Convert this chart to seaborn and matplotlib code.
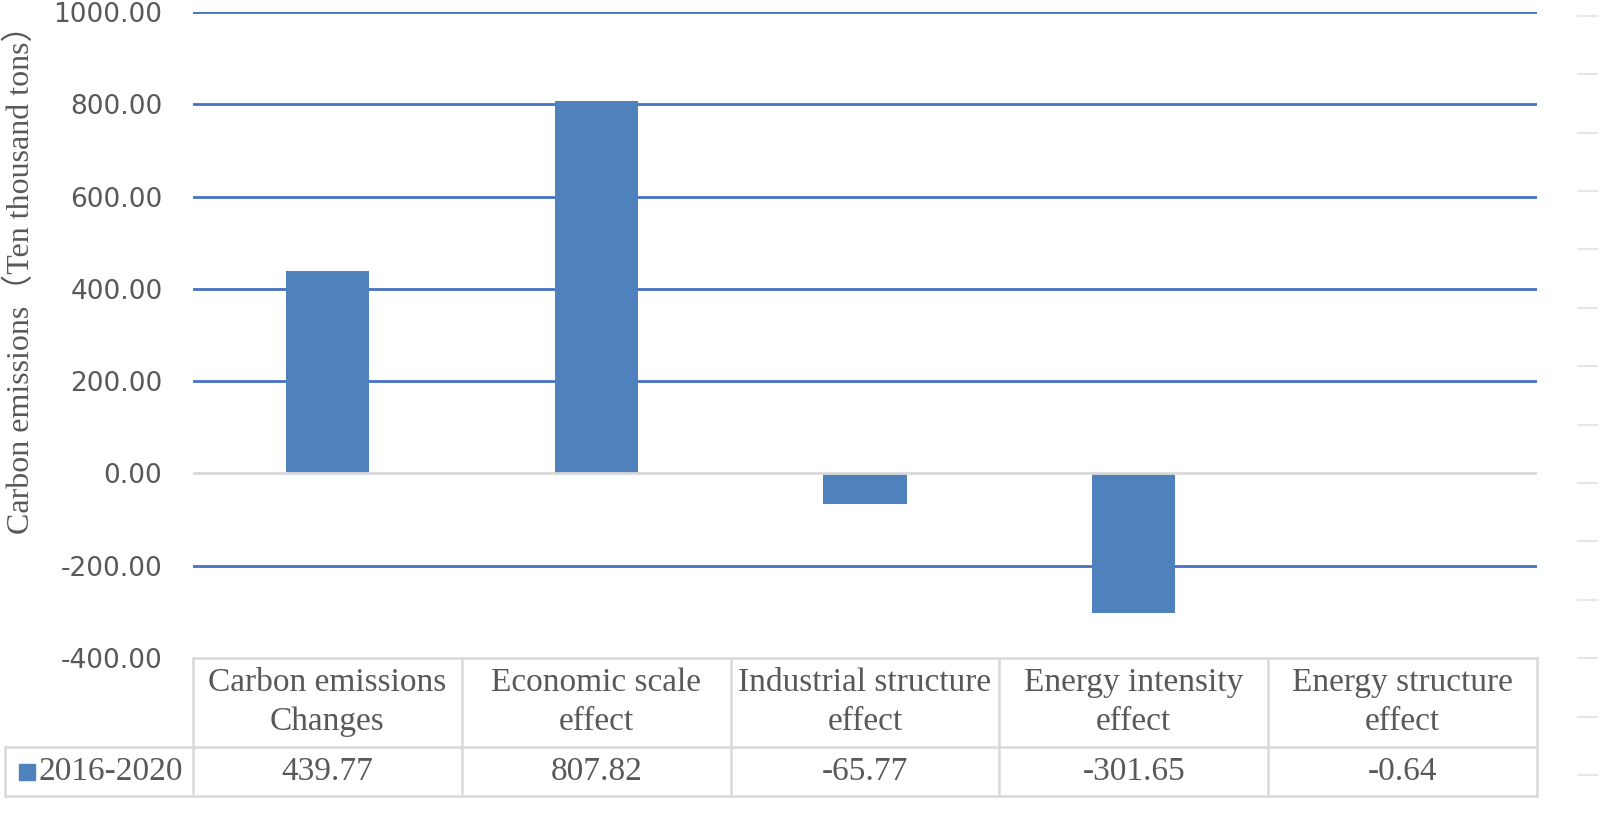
import matplotlib
matplotlib.use("Agg")
import matplotlib.pyplot as plt
import matplotlib.transforms as mtransforms
from matplotlib.lines import Line2D
import seaborn as sns
import pandas as pd

categories = ["Carbon emissions\nChanges", "Economic scale\neffect", "Industrial structure\neffect",
              "Energy intensity\neffect", "Energy structure\neffect"]
values = [439.77, 807.82, -65.77, -301.65, -0.64]
series_name = "2016-2020"
yticks = [-400, -200, 0, 200, 400, 600, 800, 1000]
ylabel = "Carbon emissions\uff08Ten thousand tons\uff09"

BAR = "#4F81BD"
GRID = "#4472C4"
BORDER = "#D9D9D9"
TXT = "#595959"
SERIF = ['Liberation Serif', 'Noto Sans CJK SC', 'DejaVu Sans']

sns.set_theme(style="white")
plt.rcParams['font.family'] = SERIF

fig = plt.figure(figsize=(16, 8.17), dpi=100)
ax = fig.add_axes([193/1600, 1-658/817, 1344/1600, 646/817])

df = pd.DataFrame({"cat": categories, "val": values})
sns.barplot(data=df, x="cat", y="val", color=BAR, width=0.31, saturation=1, ax=ax,
            zorder=3, linewidth=0, edgecolor='none')

ax.set_ylim(-400, 1000)
ax.set_xlim(-0.5, len(categories) - 0.5)
ax.set_yticks(yticks)
ax.set_yticklabels([f"{v:.2f}" for v in yticks], fontsize=19, color=TXT, family='DejaVu Sans')
ax.tick_params(axis='y', length=0, pad=22)
ax.set_xticks([])
ax.set_xlabel("")
ax.set_ylabel(ylabel, fontsize=23, color=TXT)
ax.yaxis.set_label_coords((36 - 193) / 1344, 1 - (272 - 12) / 646)
for s in ax.spines.values():
    s.set_visible(False)

for v in yticks:
    if v == -400:
        continue
    ax.axhline(v, color=(BORDER if v == 0 else GRID), lw=2.0, zorder=(2 if v != 0 else 4))

# data table
trans = mtransforms.blended_transform_factory(ax.transData, ax.transAxes)
h1 = -89/646
h2 = -138/646
xl = -0.5 - 188/268.8
n = len(categories)
kw = dict(color=BORDER, lw=1.8, transform=trans, clip_on=False)
ax.plot([-0.5, n - 0.5], [0, 0], **kw)
ax.plot([xl, n - 0.5], [h1, h1], **kw)
ax.plot([xl, n - 0.5], [h2, h2], **kw)
for i in range(n + 1):
    ax.plot([i - 0.5, i - 0.5], [0, h2], **kw)
ax.plot([xl, xl], [h1, h2], **kw)

for i, (c, v) in enumerate(zip(categories, values)):
    ax.text(i, h1 / 2, c, ha='center', va='center', fontsize=24, color=TXT,
            transform=trans, linespacing=1.35)
    ax.text(i, (h1 + h2) / 2, f"{v:.2f}", ha='center', va='center', fontsize=24,
            color=TXT, transform=trans)

ax.plot([xl + 22/268.8], [(h1 + h2) / 2], marker='s', markersize=12, color=BAR,
        transform=trans, clip_on=False, linestyle='none')
ax.text(xl + 33/268.8, (h1 + h2) / 2, series_name, ha='left', va='center', fontsize=24,
        color=TXT, transform=trans)

# faint marks along the right edge
for k in range(14):
    yy = 1 - (15.7 + 58.4 * k) / 817
    fig.add_artist(Line2D([1578/1600, 1597/1600], [yy, yy], color="#E6E6E6", lw=1.5,
                          transform=fig.transFigure))

fig.savefig("out.png", dpi=100)
